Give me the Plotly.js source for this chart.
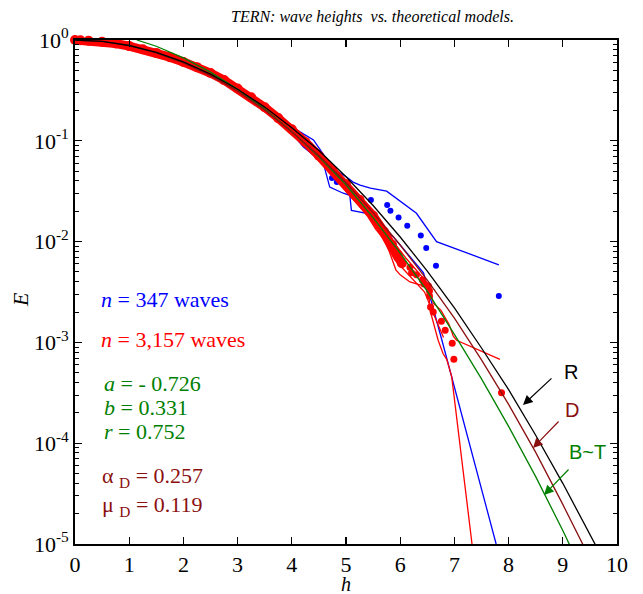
<!DOCTYPE html>
<html><head><meta charset="utf-8">
<script src="https://cdn.plot.ly/plotly-3.0.1.min.js"></script>
<style>html,body{margin:0;padding:0;background:#fff}#plot{width:643px;height:594px}</style>
</head><body><div id="plot"></div>
<script>
// ---- Theoretical model curves ----
const hR = [0,0.5,1,1.5,2,2.5,3,3.5,4,4.5,5,5.5,6,6.5,7,7.5,8,8.5,9,9.5,9.7];
const ER = [1,0.969,0.882,0.755,0.607,0.458,0.325,0.216,0.135,0.080,0.044,0.0228,0.0111,0.0051,0.0022,0.00088,0.00034,0.00012,4.0e-5,1.26e-5,7.8e-6];
const hD = [0,0.5,1,1.5,2,2.5,3,3.5,4,4.5,5,5.5,6,6.5,7,7.5,8,8.5,9,9.4];
const ED = [1,0.968,0.883,0.746,0.593,0.443,0.310,0.202,0.123,0.071,0.0383,0.0194,0.00925,0.00414,0.00174,0.00067,0.000243,8.1e-5,2.47e-5,9.2e-6];
const hBT = [1.14,1.5,2,2.5,3,3.5,4,4.5,5,5.5,6,6.5,7,7.5,8,8.5,9,9.15];
const EBT = [1.0,0.867,0.665,0.480,0.324,0.2065,0.1233,0.0693,0.0366,0.0173,0.00769,0.00321,0.00120,0.000434,0.000147,4.66e-5,1.36e-5,9.2e-6];

// ---- Blue record (n = 347) ----
const blueL1H = [0,1,2,3,3.5,3.9,4.4,4.77,5.01,5.13,5.26,5.45,5.75,6.30,6.67,7.82];
const blueL1E = [1,0.871,0.617,0.339,0.229,0.148,0.102,0.0525,0.0437,0.0389,0.0363,0.0339,0.0316,0.0191,0.0100,0.00589];
const blueL2H = [0,1,2,3,3.6,4.0,4.21,4.58,4.70,4.95,5.07,5.10,5.38,5.87,6.43,6.52,6.77,7.77];
const blueL2E = [1,0.851,0.603,0.316,0.182,0.120,0.0871,0.0603,0.0347,0.0302,0.0288,0.0204,0.0191,0.0112,0.0049,0.00331,0.00105,1.0e-5];
const blueDotH = [0,0.5,1,1.5,2,2.5,3,3.5,4,4.5,4.74,4.83,5.46,5.76,5.82,5.97,6.13,6.38,6.48,6.66,7.82];
const blueDotE = [1,0.965,0.87,0.75,0.6,0.47,0.33,0.21,0.13,0.075,0.0427,0.039,0.0259,0.0231,0.0202,0.0173,0.0144,0.0115,0.00865,0.00576,0.00288];

// ---- Red record (n = 3,157) ----
const redL1H = [0,1,2,3,4,4.5,4.8,5.0,5.2,5.4,5.55,5.7,5.8,5.92,6.0,6.18,6.3,6.52,6.55,6.67,6.70,6.79,6.86,6.95,7.33];
const redL1E = [1,0.87,0.6,0.325,0.128,0.0692,0.0437,0.0316,0.0240,0.0178,0.0132,0.0105,0.00794,0.00525,0.00468,0.00398,0.0038,0.00355,0.00209,0.00123,0.00105,0.000776,0.000676,0.000457,9.5e-6];
const redL2H = [0,1,2,3,4,4.5,5.0,5.3,5.5,5.7,5.9,6.1,6.3,6.52,6.61,6.75,6.9,6.98,7.04,7.84];
const redL2E = [1,0.875,0.61,0.335,0.133,0.0759,0.0398,0.0263,0.0200,0.0138,0.00955,0.00692,0.00525,0.0038,0.00245,0.00209,0.00151,0.00115,0.00105,0.00068];
const redL3H = [0,1,2,3,3.5,4.0,4.5,5.0,5.3,5.6,5.9,6.2,6.45,6.6,6.8];
const redL3E = [1,0.868,0.6,0.328,0.219,0.135,0.0759,0.0363,0.0219,0.0126,0.0066,0.00437,0.00316,0.0020,0.00112];
const redBandH = [0,0.1,0.25,0.5,0.75,1.0,1.25,1.5,1.75,2.0,2.25,2.5,2.75,3.0,3.25,3.5,3.75,4.0,4.25,4.5,4.75,5.0,5.25,5.5,5.7,5.85,5.95,6.03];
const redBandE = [1.0,0.995,0.985,0.962,0.922,0.87,0.81,0.745,0.676,0.605,0.538,0.47,0.40,0.33,0.27,0.215,0.168,0.13,0.097,0.071,0.051,0.037,0.026,0.018,0.0125,0.0093,0.0074,0.0061];
const redTailH = [6.18,6.21,6.30,6.41,6.44,6.52,6.54,6.54,6.56,6.61,6.76,6.83,6.96,6.99,7.87];
const redTailE = [0.00556,0.0049,0.00468,0.00417,0.0038,0.00363,0.00324,0.00288,0.00224,0.0020,0.00162,0.00132,0.00098,0.00068,0.000317];

// ---- Axis ticks ----
const xTicks = [0,1,2,3,4,5,6,7,8,9,10];
const yTickVals = [1,0.1,0.01,0.001,0.0001,0.00001];
const yTickText = ['10<sup>0</sup>','10<sup>-1</sup>','10<sup>-2</sup>','10<sup>-3</sup>','10<sup>-4</sup>','10<sup>-5</sup>'];

const BLUE='#0000ff', RED='#ff0000', GREEN='#008000', DRED='#8b1010', BLACK='#000000';
const serif = 'Liberation Serif';
const sans = 'Liberation Sans';

function line(x,y,color,w){return {x:x,y:y,type:'scatter',mode:'lines',line:{color:color,width:w||1.3},hoverinfo:'skip',showlegend:false};}
const traces = [
  line(blueL1H,blueL1E,BLUE),
  line(blueL2H,blueL2E,BLUE),
  {x:blueDotH,y:blueDotE,type:'scatter',mode:'markers',marker:{color:BLUE,size:6},showlegend:false},
  line(redL1H,redL1E,RED),
  line(redL2H,redL2E,RED),
  line(redL3H,redL3E,RED),
  {x:redBandH,y:redBandE,type:'scatter',mode:'lines+markers',line:{color:RED,width:9},marker:{color:RED,size:10},cliponaxis:false,showlegend:false},
  {x:redTailH,y:redTailE,type:'scatter',mode:'markers',marker:{color:RED,size:7},showlegend:false},
  line(hBT,EBT,GREEN),
  line(hD,ED,DRED),
  line(hR,ER,BLACK)
];

const L=75, R=617, T=40, B=544;
function px(x){return (x-L)/(R-L);}
function py(y){return (B-y)/(B-T);}
function txt(x,y,t,color,size,font,anchor){return {xref:'paper',yref:'paper',x:px(x),y:py(y),text:t,showarrow:false,xanchor:anchor||'left',yanchor:'middle',font:{family:font||serif,size:size||22,color:color}};}
function arrow(tx,ty,sx,sy,color){return {xref:'paper',yref:'paper',x:px(tx),y:py(ty),ax:sx-tx,ay:sy-ty,text:'',showarrow:true,arrowhead:2,arrowsize:1.6,arrowwidth:1.2,arrowcolor:color,standoff:0,startstandoff:0};}

const annotations = [
  txt(99,299,'<i>n</i> = 347 waves',BLUE),
  txt(99,339,'<i>n</i> = 3,157 waves',RED),
  txt(102,383,'<i>a</i> = - 0.726',GREEN),
  txt(102,407,'<i>b</i> = 0.331',GREEN),
  txt(102,431,'<i>r</i> = 0.752',GREEN),
  txt(100,477,'α <sub>D</sub> = 0.257',DRED),
  txt(100,506,'μ <sub>D</sub> = 0.119',DRED),
  txt(571,372,'R',BLACK,20,sans,'center'),
  txt(572,410,'D',DRED,20,sans,'center'),
  txt(587,452,'B~T',GREEN,20,sans,'center'),
  arrow(523,405,553,377,BLACK),
  arrow(533,448,560,420,DRED),
  arrow(544,495,570,468,GREEN),
  txt(346,584,'<i>h</i>',BLACK,20,serif,'center'),
  {xref:'paper',yref:'paper',x:px(20),y:py(300),text:'<i>E</i>',showarrow:false,textangle:-90,xanchor:'center',yanchor:'middle',font:{family:serif,size:22,color:BLACK}},
  {xref:'paper',yref:'paper',x:px(372),y:py(17),text:'<i>TERN: wave heights\u00a0 vs. theoretical models.</i>',showarrow:false,xanchor:'center',yanchor:'middle',font:{family:serif,size:16,color:BLACK}}
];

const layout = {
  width:643,height:594,
  margin:{l:L,r:643-R,t:T,b:594-B,pad:0},
  paper_bgcolor:'#fff',plot_bgcolor:'#fff',
  showlegend:false,
  xaxis:{range:[0,10],tickmode:'array',tickvals:xTicks,ticks:'inside',ticklen:7,tickwidth:1.3,tickcolor:'#000',
    showline:true,linecolor:'#000',linewidth:1.8,mirror:'ticks',showgrid:false,zeroline:false,
    tickfont:{family:serif,size:22,color:'#000'}},
  yaxis:{type:'log',range:[-5,0],tickmode:'array',tickvals:yTickVals,ticktext:yTickText,ticks:'inside',ticklen:7,tickwidth:1.3,tickcolor:'#000',
    minor:{ticks:'inside',ticklen:4,tickwidth:1,tickcolor:'#000',dtick:'D1',showgrid:false},
    showline:true,linecolor:'#000',linewidth:1.8,mirror:'ticks',showgrid:false,zeroline:false,
    tickfont:{family:serif,size:22,color:'#000'}},
  annotations:annotations
};
Plotly.newPlot('plot',traces,layout,{staticPlot:true,displayModeBar:false});
</script></body></html>
